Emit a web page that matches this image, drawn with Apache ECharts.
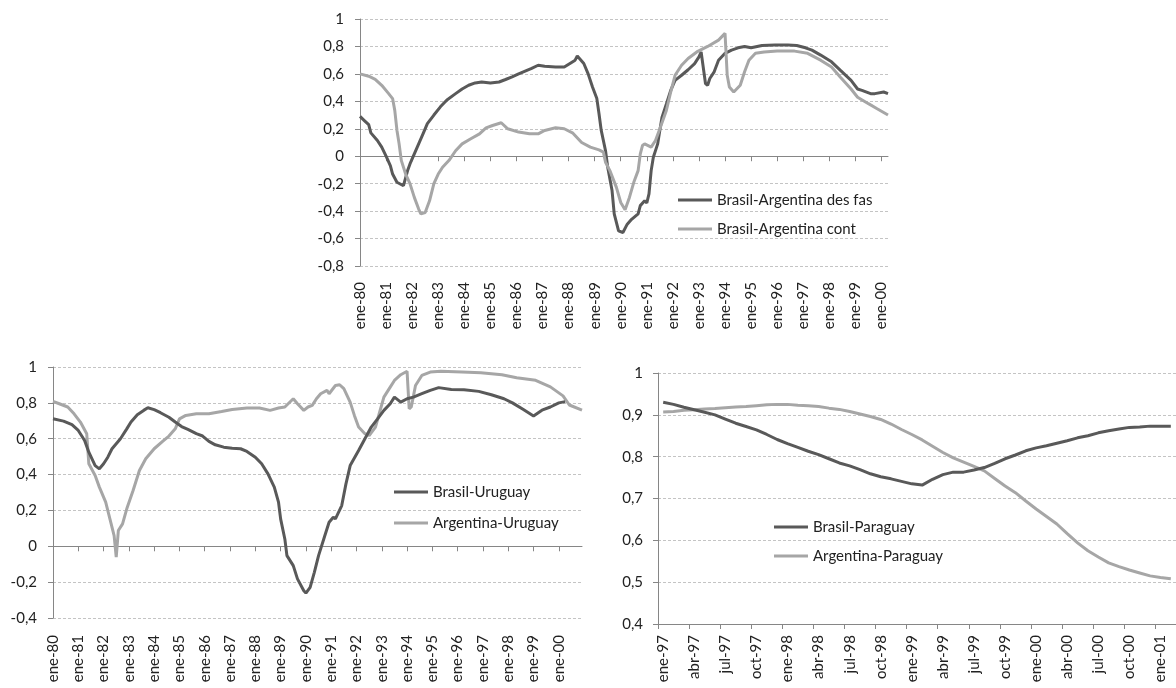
<!DOCTYPE html>
<html>
<head>
<meta charset="utf-8">
<script src="https://cdn.jsdelivr.net/npm/echarts@6/dist/echarts.min.js"></script>
<style>
  html, body { margin: 0; padding: 0; background: #fff; }
  #chart { width: 1176px; height: 688px; }
</style>
</head>
<body>
<div id="chart"></div>
<script>
// tick labels of the two long panels (one per January, month index = 12 * i)
const yearLabels = ['ene-80', 'ene-81', 'ene-82', 'ene-83', 'ene-84', 'ene-85', 'ene-86',
  'ene-87', 'ene-88', 'ene-89', 'ene-90', 'ene-91', 'ene-92', 'ene-93', 'ene-94', 'ene-95',
  'ene-96', 'ene-97', 'ene-98', 'ene-99', 'ene-00'];

// Brasil-Argentina, months since ene-80
const desFasMonths = [0, 2, 4, 5, 8, 10, 12, 14, 15, 17, 20, 22, 23, 25, 27, 29, 31, 34, 37, 40, 44, 47, 50, 53, 56, 60, 64, 67, 70, 73, 76, 79, 82, 85, 90, 94, 97, 99, 100, 103, 105, 107, 109, 110, 111, 113, 114, 116, 117, 119, 121, 123, 125, 128, 129, 131, 132, 133, 134, 135, 137, 138, 139, 141, 143, 145, 148, 151, 154, 156, 157, 159, 160, 161, 163, 165, 168, 171, 174, 177, 180, 185, 191, 197, 201, 205, 208, 212, 217, 221, 226, 229, 231, 235, 237, 241, 243];
const desFasValues = [0.29, 0.26, 0.23, 0.17, 0.115, 0.066, 0.0, -0.07, -0.13, -0.19, -0.215, -0.10, -0.056, 0.017, 0.09, 0.163, 0.237, 0.30, 0.36, 0.41, 0.456, 0.49, 0.517, 0.534, 0.541, 0.534, 0.541, 0.559, 0.578, 0.60, 0.62, 0.64, 0.663, 0.656, 0.65, 0.65, 0.68, 0.70, 0.73, 0.676, 0.60, 0.505, 0.42, 0.31, 0.19, 0.04, -0.08, -0.25, -0.42, -0.544, -0.556, -0.495, -0.46, -0.42, -0.36, -0.325, -0.34, -0.275, -0.105, -0.007, 0.09, 0.19, 0.285, 0.38, 0.48, 0.553, 0.59, 0.63, 0.675, 0.724, 0.76, 0.53, 0.517, 0.566, 0.615, 0.70, 0.75, 0.773, 0.79, 0.80, 0.79, 0.807, 0.81, 0.81, 0.807, 0.79, 0.773, 0.737, 0.688, 0.627, 0.553, 0.49, 0.48, 0.456, 0.456, 0.468, 0.456];

const contMonths = [0, 4, 7, 10, 13, 15, 16, 17, 18, 19, 21, 23, 25, 27, 28, 30, 32, 34, 36, 38, 41, 44, 47, 51, 55, 58, 61, 65, 68, 73, 78, 82, 85, 90, 94, 98, 102, 106, 110, 112, 113, 115, 118, 120, 122, 124, 126, 128, 129, 130, 131, 134, 136, 138, 141, 143, 145, 148, 151, 155, 160, 165, 168, 169, 170, 172, 175, 177, 179, 182, 186, 192, 200, 206, 212, 217, 221, 226, 229, 234, 238, 243];
const contValues = [0.60, 0.583, 0.56, 0.517, 0.46, 0.42, 0.334, 0.19, 0.09, -0.03, -0.13, -0.20, -0.30, -0.385, -0.42, -0.41, -0.325, -0.20, -0.13, -0.08, -0.03, 0.04, 0.09, 0.127, 0.163, 0.207, 0.224, 0.244, 0.20, 0.176, 0.163, 0.163, 0.188, 0.207, 0.20, 0.168, 0.10, 0.066, 0.046, 0.03, -0.044, -0.105, -0.227, -0.337, -0.39, -0.30, -0.19, -0.105, 0.017, 0.078, 0.09, 0.066, 0.115, 0.20, 0.334, 0.468, 0.59, 0.663, 0.712, 0.76, 0.80, 0.846, 0.895, 0.59, 0.505, 0.468, 0.517, 0.615, 0.70, 0.75, 0.76, 0.766, 0.766, 0.75, 0.70, 0.65, 0.578, 0.49, 0.43, 0.383, 0.346, 0.30];

// Uruguay, months since ene-80
const bruMonths = [0, 5, 9, 12, 15, 17, 20, 22, 24, 26, 28, 32, 35, 37, 40, 43, 45, 48, 51, 55, 58, 61, 64, 68, 71, 74, 77, 81, 85, 89, 92, 96, 99, 102, 105, 107, 108, 110, 111, 114, 116, 119, 120, 122, 124, 126, 129, 131, 133, 134, 137, 139, 141, 145, 148, 151, 154, 157, 160, 162, 165, 168, 171, 175, 179, 183, 189, 195, 202, 208, 214, 218, 223, 228, 232, 236, 240, 243];
const bruValues = [0.711, 0.698, 0.678, 0.646, 0.59, 0.525, 0.45, 0.432, 0.46, 0.497, 0.544, 0.60, 0.655, 0.693, 0.734, 0.758, 0.773, 0.762, 0.745, 0.72, 0.693, 0.668, 0.652, 0.628, 0.615, 0.585, 0.566, 0.553, 0.547, 0.544, 0.529, 0.497, 0.46, 0.404, 0.33, 0.246, 0.153, 0.041, -0.052, -0.108, -0.182, -0.248, -0.261, -0.229, -0.145, -0.052, 0.06, 0.134, 0.162, 0.153, 0.227, 0.348, 0.45, 0.534, 0.60, 0.665, 0.711, 0.758, 0.795, 0.832, 0.804, 0.823, 0.832, 0.851, 0.87, 0.885, 0.875, 0.873, 0.864, 0.845, 0.823, 0.80, 0.764, 0.727, 0.759, 0.777, 0.80, 0.807];

const aruMonths = [0, 3, 7, 10, 13, 16, 17, 20, 22, 25, 27, 29, 30, 31, 33, 35, 38, 41, 44, 48, 52, 55, 58, 60, 63, 68, 74, 80, 85, 92, 98, 103, 107, 110, 114, 116, 119, 121, 123, 125, 127, 130, 131, 134, 136, 138, 141, 143, 145, 148, 150, 153, 155, 157, 160, 162, 165, 168, 169, 170, 172, 175, 179, 184, 194, 203, 213, 220, 229, 236, 242, 245, 251];
const aruValues = [0.808, 0.795, 0.777, 0.739, 0.693, 0.628, 0.46, 0.395, 0.33, 0.246, 0.153, 0.06, -0.061, 0.088, 0.125, 0.209, 0.311, 0.423, 0.488, 0.544, 0.585, 0.615, 0.655, 0.711, 0.73, 0.739, 0.739, 0.752, 0.763, 0.771, 0.771, 0.758, 0.771, 0.777, 0.823, 0.795, 0.758, 0.777, 0.786, 0.823, 0.851, 0.87, 0.851, 0.897, 0.901, 0.879, 0.804, 0.73, 0.665, 0.628, 0.618, 0.665, 0.749, 0.832, 0.888, 0.925, 0.957, 0.976, 0.767, 0.777, 0.897, 0.953, 0.972, 0.976, 0.972, 0.968, 0.957, 0.94, 0.926, 0.889, 0.839, 0.788, 0.759];

// Paraguay, monthly
const paraguayMonths = ['ene-97', 'feb-97', 'mar-97', 'abr-97', 'may-97', 'jun-97', 'jul-97', 'ago-97', 'sep-97', 'oct-97', 'nov-97', 'dic-97',
  'ene-98', 'feb-98', 'mar-98', 'abr-98', 'may-98', 'jun-98', 'jul-98', 'ago-98', 'sep-98', 'oct-98', 'nov-98', 'dic-98',
  'ene-99', 'feb-99', 'mar-99', 'abr-99', 'may-99', 'jun-99', 'jul-99', 'ago-99', 'sep-99', 'oct-99', 'nov-99', 'dic-99',
  'ene-00', 'feb-00', 'mar-00', 'abr-00', 'may-00', 'jun-00', 'jul-00', 'ago-00', 'sep-00', 'oct-00', 'nov-00', 'dic-00',
  'ene-01', 'feb-01'];
const brpValues = [0.930, 0.925, 0.918, 0.912, 0.906, 0.900, 0.890, 0.880, 0.872, 0.864, 0.853, 0.841,
  0.831, 0.822, 0.813, 0.805, 0.795, 0.785, 0.778, 0.769, 0.759, 0.752, 0.747, 0.741,
  0.735, 0.732, 0.746, 0.757, 0.763, 0.763, 0.768, 0.774, 0.784, 0.795, 0.804, 0.814,
  0.821, 0.826, 0.832, 0.838, 0.845, 0.850, 0.857, 0.862, 0.866, 0.870, 0.871, 0.873,
  0.873, 0.873];
const arpValues = [0.907, 0.908, 0.911, 0.912, 0.914, 0.915, 0.917, 0.919, 0.920, 0.922, 0.924, 0.925,
  0.925, 0.923, 0.922, 0.920, 0.916, 0.913, 0.908, 0.902, 0.896, 0.889, 0.878, 0.865,
  0.853, 0.840, 0.825, 0.810, 0.797, 0.787, 0.777, 0.766, 0.748, 0.730, 0.714, 0.694,
  0.675, 0.657, 0.639, 0.616, 0.594, 0.575, 0.560, 0.546, 0.537, 0.529, 0.522, 0.515,
  0.511, 0.508];

const DARK = '#595959';
const LIGHT = '#a6a6a6';
const FONT = 'Lato';
const FS = 15;
const yearTicks = yearLabels.map((_, i) => i * 12);

function pairs(xs, ys) {
  return xs.map((x, i) => [x, ys[i]]);
}

function commaLabel(v) {
  return String(+v.toFixed(1)).replace('.', ',');
}

function valueY(grid, min, max, interval, margin) {
  return {
    type: 'value', gridIndex: grid, min: min, max: max, interval: interval,
    axisLine: { show: true, onZero: false, lineStyle: { color: '#868686', width: 1 } },
    axisTick: { show: true, length: 5, lineStyle: { color: '#868686' } },
    axisLabel: { margin: margin, color: '#222', fontSize: FS, fontFamily: FONT, formatter: commaLabel },
    splitLine: { show: true, lineStyle: { color: '#c4c4c4', type: [3, 2], width: 1 } }
  };
}

// bottom axis carrying only the year labels
function yearLabelAxis(grid, max, margin) {
  return {
    type: 'value', gridIndex: grid, min: 0, max: max,
    axisLine: { show: false, onZero: false },
    axisTick: { show: false },
    splitLine: { show: false },
    axisLabel: {
      rotate: 90, margin: margin, color: '#222', fontSize: FS, fontFamily: FONT,
      customValues: yearTicks,
      formatter: v => yearLabels[Math.round(v / 12)]
    }
  };
}

// the zero line with its yearly ticks
function zeroAxis(grid, max) {
  return {
    type: 'value', gridIndex: grid, min: 0, max: max, position: 'top',
    axisLine: { show: true, onZero: true, lineStyle: { color: '#868686', width: 1 } },
    axisTick: { show: true, inside: true, length: 5, customValues: yearTicks, lineStyle: { color: '#868686' } },
    axisLabel: { show: false },
    splitLine: { show: false }
  };
}

function lineSeries(name, color, xi, yi, data) {
  return {
    name: name, type: 'line', xAxisIndex: xi, yAxisIndex: yi, data: data,
    symbol: 'none', showSymbol: false, smooth: false,
    lineStyle: { color: color, width: 3 }, itemStyle: { color: color }
  };
}

function legendAt(names, left, top, gap) {
  return {
    data: names, orient: 'vertical', left: left, top: top, icon: 'rect', padding: 0,
    itemWidth: 34, itemHeight: 3, itemGap: gap, selectedMode: false,
    textStyle: { fontSize: FS, lineHeight: 16, fontFamily: FONT, color: '#222' }
  };
}

const option = {
  animation: false,
  backgroundColor: '#fff',
  grid: [
    { left: 360, top: 19, width: 528, height: 247 },
    { left: 53, top: 367, width: 529, height: 251 },
    { left: 658, top: 373, width: 527, height: 251 }
  ],
  legend: [
    legendAt(['Brasil-Argentina des fas', 'Brasil-Argentina cont'], 678, 192, 13),
    legendAt(['Brasil-Uruguay', 'Argentina-Uruguay'], 394, 484, 15),
    legendAt(['Brasil-Paraguay', 'Argentina-Paraguay'], 774, 519, 13)
  ],
  xAxis: [
    yearLabelAxis(0, 243, 16),
    zeroAxis(0, 243),
    yearLabelAxis(1, 251, 17),
    zeroAxis(1, 251),
    {
      type: 'category', gridIndex: 2, data: paraguayMonths, boundaryGap: true,
      axisLine: { show: true, onZero: false, lineStyle: { color: '#868686', width: 1 } },
      axisTick: { show: true, interval: 2, length: 5, lineStyle: { color: '#868686' } },
      axisLabel: { interval: 2, rotate: 90, margin: 11, color: '#222', fontSize: FS, fontFamily: FONT },
      splitLine: { show: false }
    }
  ],
  yAxis: [
    valueY(0, -0.8, 1, 0.2, 16),
    valueY(1, -0.4, 1, 0.2, 16),
    valueY(2, 0.4, 1, 0.1, 15)
  ],
  series: [
    lineSeries('Brasil-Argentina des fas', DARK, 0, 0, pairs(desFasMonths, desFasValues)),
    lineSeries('Brasil-Argentina cont', LIGHT, 0, 0, pairs(contMonths, contValues)),
    lineSeries('Argentina-Uruguay', LIGHT, 2, 1, pairs(aruMonths, aruValues)),
    lineSeries('Brasil-Uruguay', DARK, 2, 1, pairs(bruMonths, bruValues)),
    lineSeries('Argentina-Paraguay', LIGHT, 4, 2, arpValues),
    lineSeries('Brasil-Paraguay', DARK, 4, 2, brpValues)
  ]
};

const myChart = echarts.init(document.getElementById('chart'));
myChart.setOption(option);
</script>
</body>
</html>
